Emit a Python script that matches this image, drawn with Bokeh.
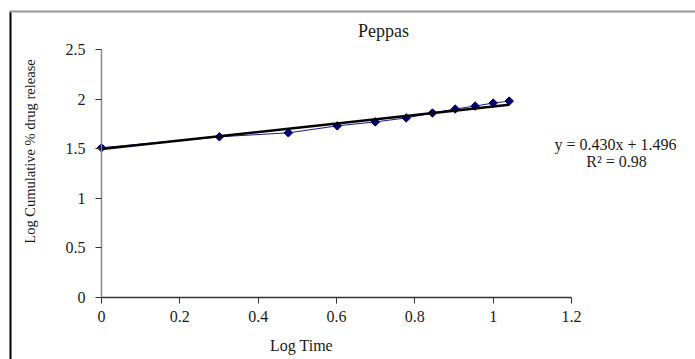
import math
from bokeh.plotting import figure
from bokeh.models import Label, BoxAnnotation, LinearAxis, Range1d, FixedTicker
from bokeh.embed import file_html
from bokeh.resources import INLINE

# Data
log_time = [0.0, 0.301, 0.477, 0.602, 0.699, 0.778, 0.845, 0.903, 0.954, 1.0, 1.041]
log_release = [1.51, 1.62, 1.66, 1.73, 1.77, 1.81, 1.86, 1.90, 1.93, 1.96, 1.98]
slope = 0.430
intercept = 1.496
r_squared = 0.98
x_ticks = [0, 0.2, 0.4, 0.6, 0.8, 1.0, 1.2]
y_ticks = [0, 0.5, 1.0, 1.5, 2.0, 2.5]

FONT = "Liberation Serif"
W, H = 695, 359
# frame layout in pixels: data x 0..1.2 -> px 101..571, data y 0..2.5 -> px 297..49
X0PX, X1PX, Y0PX, Y1PX = 101.0, 571.0, 297.0, 49.0
sx = (X1PX - X0PX) / 1.2
sy = (Y0PX - Y1PX) / 2.5


def dx(px):
    return (px - X0PX) / sx


def dy(py):
    return (Y0PX - py) / sy


p = figure(width=W, height=H, output_backend="svg", toolbar_location=None,
           x_range=Range1d(dx(0), dx(W)), y_range=Range1d(dy(H), dy(0)),
           min_border=0, x_axis_type=None, y_axis_type=None)
p.grid.visible = False
p.outline_line_color = None
p.background_fill_color = "white"
p.border_fill_color = "white"

xa = LinearAxis(ticker=FixedTicker(ticks=x_ticks), fixed_location=0, bounds=(0, 1.2))
xa.major_label_overrides = {0: "0", 1.0: "1"}
ya = LinearAxis(ticker=FixedTicker(ticks=y_ticks), fixed_location=0, bounds=(0, 2.5))
ya.major_label_overrides = {0: "0", 1.0: "1", 2.0: "2"}
for ax in (xa, ya):
    ax.major_label_text_font = FONT
    ax.major_label_text_font_size = "16px"
    ax.major_label_text_color = "#1a1a1a"
    ax.minor_tick_line_color = None
    ax.major_tick_in = 0
    ax.major_tick_out = 6
    ax.major_tick_line_color = "#333333"
xa.axis_line_color = "#333333"
xa.axis_line_width = 1.5
ya.axis_line_color = "#888888"
ya.axis_line_width = 1.5
xa.major_label_standoff = 7
ya.major_label_standoff = 10
p.add_layout(xa, "below")
p.add_layout(ya, "left")

# data series
p.line(log_time, log_release, line_color="#1a1a8c", line_width=1)
p.scatter(log_time, log_release, marker="square", angle=math.pi / 4, size=6,
          fill_color="#00006e", line_color="#00006e")

# trend line
x0, x1 = min(log_time), max(log_time)
p.line([x0, x1], [slope * x0 + intercept, slope * x1 + intercept],
       line_color="black", line_width=2.5)

# texts
common = dict(text_font=FONT, text_align="center", text_baseline="middle", text_color="#1a1a1a")
p.add_layout(Label(x=dx(383), y=dy(30), text="Peppas", text_font_size="18px", **common))
p.add_layout(Label(x=dx(301), y=dy(345), text="Log Time", text_font_size="16px", **common))
p.add_layout(Label(x=dx(29), y=dy(151), text="Log Cumulative % drug release", angle=math.pi / 2,
                   text_font_size="14.5px", **common))
p.add_layout(Label(x=dx(615), y=dy(144), text=f"y = {slope:.3f}x + {intercept:.3f}",
                   text_font_size="16px", **common))
p.add_layout(Label(x=dx(616), y=dy(161), text=f"R\u00b2 = {r_squared:.2f}",
                   text_font_size="16px", **common))

# outer border (left black, top gray)
p.add_layout(BoxAnnotation(left=dx(9), right=dx(11), bottom=dy(H + 5), top=dy(11),
                           fill_color="black", fill_alpha=1, line_color=None))
p.add_layout(BoxAnnotation(left=dx(9), right=dx(W + 5), bottom=dy(12), top=dy(10),
                           fill_color="#999999", fill_alpha=1, line_color=None))

open("out.html", "w").write(file_html(p, INLINE))
